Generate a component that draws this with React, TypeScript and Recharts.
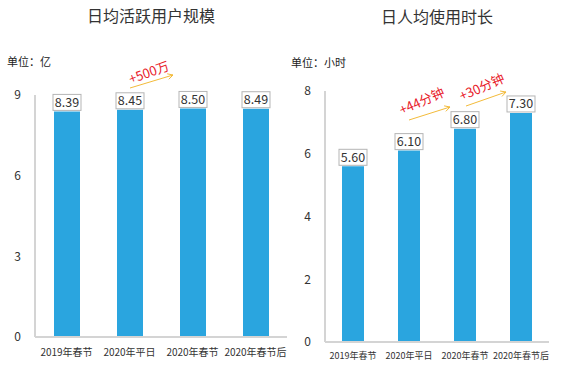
import React from "react";
import { BarChart, Bar, XAxis, YAxis, LabelList } from "recharts";

const categories = ["2019年春节", "2020年平日", "2020年春节", "2020年春节后"];
const dauValues = [8.39, 8.45, 8.5, 8.49];
const dauTicks = [0, 3, 6, 9];
const hoursValues = [5.6, 6.1, 6.8, 7.3];
const hoursTicks = [0, 2, 4, 6, 8];

const FONT = '"Noto Sans CJK SC", "Noto Sans", sans-serif';
const BAR = "#2aa5df";
const AXIS = "#d4d4d4";
const TXT = "#333";

const dauData = categories.map((c, i) => ({ name: c, v: dauValues[i] }));
const hoursData = categories.map((c, i) => ({ name: c, v: hoursValues[i] }));

function ValueBox(props: any) {
  const { x, y, width, value } = props;
  const cx = x + width / 2;
  const w = 28;
  const h = 16;
  return (
    <g>
      <rect x={cx - w / 2} y={y - h - 1} width={w} height={h} fill="#fff" stroke="#b5b5b5" strokeWidth={1} />
      <text x={cx} y={y - 4.5} textAnchor="middle" fontSize={12.5} fill={TXT} fontFamily={FONT}>
        {Number(value).toFixed(2)}
      </text>
    </g>
  );
}

function Arrow({ x1, y1, x2, y2 }: { x1: number; y1: number; x2: number; y2: number }) {
  const a = Math.atan2(y2 - y1, x2 - x1);
  const l = 6;
  const p1 = [x2 - l * Math.cos(a - 0.5), y2 - l * Math.sin(a - 0.5)];
  const p2 = [x2 - l * Math.cos(a + 0.5), y2 - l * Math.sin(a + 0.5)];
  return (
    <g stroke="#f3bb3a" strokeWidth={1} fill="none">
      <line x1={x1} y1={y1} x2={x2} y2={y2} />
      <polyline points={`${p1[0]},${p1[1]} ${x2},${y2} ${p2[0]},${p2[1]}`} />
    </g>
  );
}

function Note({ x, y, angle, text }: { x: number; y: number; angle: number; text: string }) {
  return (
    <text x={x} y={y} transform={`rotate(${angle} ${x} ${y})`} fontSize={13} fill="#e8202a" fontFamily={FONT}>
      {text}
    </text>
  );
}

export default function App() {
  return (
    <div style={{ position: "absolute", left: 0, top: 0, width: 567, height: 371, background: "#fff", fontFamily: FONT }}>
      <div style={{ position: "absolute", left: 0, top: 0 }}>
        <BarChart width={290} height={371} data={dauData} margin={{ top: 95, right: 3, bottom: 4, left: 0 }}>
          <XAxis
            dataKey="name"
            height={30}
            tickLine={false}
            axisLine={{ stroke: AXIS, strokeWidth: 2 }}
            tick={{ fontSize: 10, fill: TXT, fontFamily: FONT }}
            tickMargin={6}
            interval={0}
          />
          <YAxis
            width={35}
            domain={[0, 9]}
            ticks={dauTicks}
            tickLine={false}
            axisLine={{ stroke: AXIS, strokeWidth: 2 }}
            tick={{ fontSize: 12, fill: TXT, fontFamily: FONT }}
            tickMargin={8}
          />
          <Bar dataKey="v" fill={BAR} barSize={26} isAnimationActive={false}>
            <LabelList dataKey="v" content={<ValueBox />} />
          </Bar>
        </BarChart>
      </div>
      <div style={{ position: "absolute", left: 290, top: 0 }}>
        <BarChart width={262} height={371} data={hoursData} margin={{ top: 91, right: 3, bottom: 4, left: 0 }}>
          <XAxis
            dataKey="name"
            height={25}
            tickLine={false}
            axisLine={{ stroke: AXIS, strokeWidth: 2 }}
            tick={{ fontSize: 9, fill: TXT, fontFamily: FONT }}
            tickMargin={5}
            interval={0}
          />
          <YAxis
            width={35}
            domain={[0, 8]}
            ticks={hoursTicks}
            tickLine={false}
            axisLine={{ stroke: AXIS, strokeWidth: 2 }}
            tick={{ fontSize: 12, fill: TXT, fontFamily: FONT }}
            tickMargin={8}
          />
          <Bar dataKey="v" fill={BAR} barSize={22} isAnimationActive={false}>
            <LabelList dataKey="v" content={<ValueBox />} />
          </Bar>
        </BarChart>
      </div>
      <svg width={567} height={371} style={{ position: "absolute", left: 0, top: 0, pointerEvents: "none" }}>
        <text x={151} y={22} textAnchor="middle" fontSize={16} fill={TXT} fontFamily={FONT}>日均活跃用户规模</text>
        <text x={437} y={23} textAnchor="middle" fontSize={16} fill={TXT} fontFamily={FONT}>日人均使用时长</text>
        <text x={7} y={66} fontSize={11} fill="#222" fontFamily={FONT}>单位：亿</text>
        <text x={291} y={67} fontSize={11} fill="#222" fontFamily={FONT}>单位：小时</text>
        <Note x={131} y={84} angle={-20} text="+500万" />
        <Arrow x1={130} y1={88} x2={173} y2={75} />
        <Note x={402} y={115} angle={-24} text="+44分钟" />
        <Arrow x1={409} y1={120} x2={450} y2={107} />
        <Note x={462} y={101} angle={-24} text="+30分钟" />
        <Arrow x1={466} y1={106} x2={506} y2={92} />
      </svg>
    </div>
  );
}
